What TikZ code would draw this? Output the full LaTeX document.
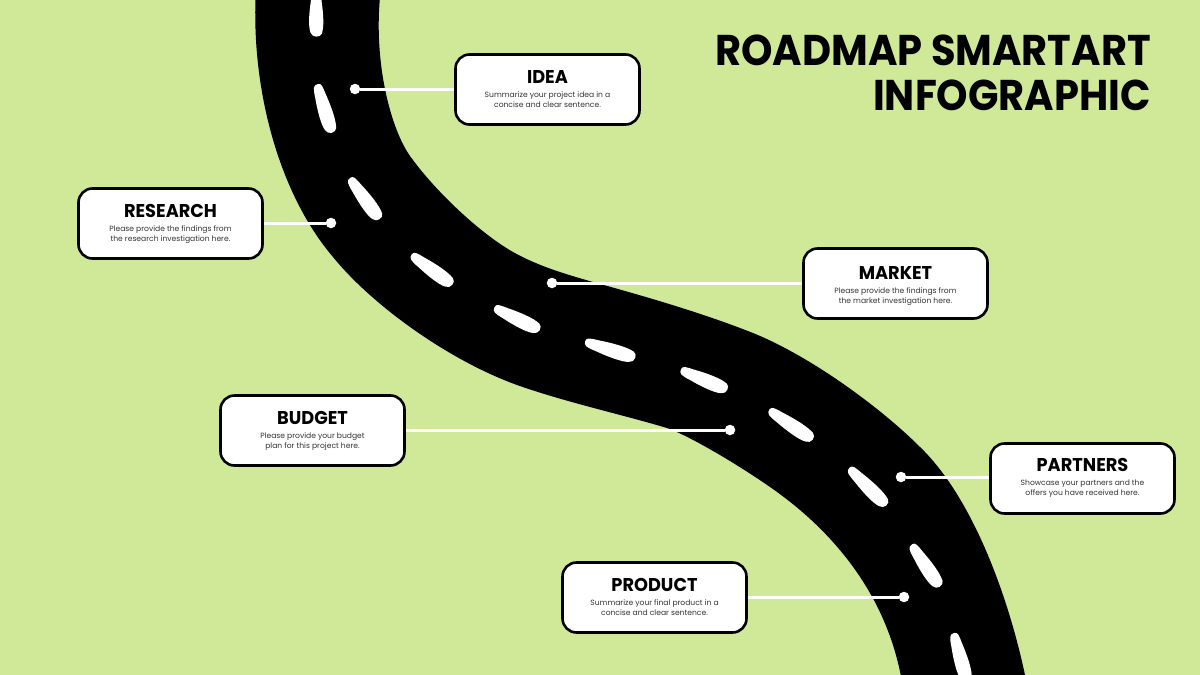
\documentclass[tikz,border=0pt]{standalone}
\usepackage{fontspec}
\setmainfont{Poppins}
\newfontfamily\headfont[FakeStretch=0.93]{Poppins}
\newfontfamily\titlefont[FakeStretch=0.96]{Poppins}
\usetikzlibrary{positioning}
\definecolor{meadow}{HTML}{D0E999}
\tikzset{
    card/.style={draw=black,fill=white,line width=2.6pt,rounded corners=14pt,minimum width=184pt,minimum height=70pt},
    cardtitle/.style={font=\titlefont\fontsize{18.5}{20}\selectfont\bfseries,inner sep=0pt},
    cardtext/.style={font=\fontsize{7.6}{10}\selectfont,align=center,text=black!80,inner sep=0pt},
    stopdot/.style={circle,fill=white,minimum size=10.5pt,inner sep=0pt},
    stopline/.style={draw=white,line width=3pt},
    laneblob/.pic={\fill[white] (-1,0) .. controls (-1,.24) and (-.9,.28) .. (-.5,.32)
        .. controls (0,.4) and (.6,.44) .. (.85,.32)
        .. controls (1.08,.25) and (1.08,-.17) .. (.9,-.24)
        .. controls (.6,-.36) and (0,-.32) .. (-.5,-.24)
        .. controls (-.85,-.2) and (-1,-.2) .. (-1,0) -- cycle;}
}

\begin{document}
\begin{tikzpicture}[x=1pt,y=-1pt]
    \useasboundingbox (0,0) rectangle (1200,675);
    \clip (0,0) rectangle (1200,675);
    \fill[meadow] (0,0) rectangle (1200,675);

    % road
    \fill[black] (256,-12) .. controls (250,90) and (280,195) .. (333,257)
        .. controls (372,305) and (448,360) .. (517,385)
        .. controls (565,402) and (620,414) .. (667,428)
        .. controls (690,436) and (740,466) .. (770,487)
        .. controls (835,532) and (892,600) .. (904,695)
        -- (1030,695) -- (1025,675)
        .. controls (1008,595) and (972,497) .. (920,447)
        .. controls (880,407) and (810,356) .. (753,333)
        .. controls (700,312) and (640,295) .. (593,282)
        .. controls (565,274) and (538,266) .. (513,252)
        .. controls (478,232) and (435,190) .. (413,160)
        .. controls (391,133) and (372,60) .. (381,-12)
        -- cycle;

    % lane marks: x/y/half length/half width/angle
    \foreach \x/\y/\l/\w/\a in {317/14/22/20/-90,325/108/25/20/-73,365/198/25/20/-54,432/269/25/20/-36,517/318/25/20/-26,610/349/26/20/-18,704/379/25/20/-23,791/424/26/20/-34,868/486/26/20/-45,926/565/25/20/-56,961/657/25/20/-74}
        \pic[rotate=\a,xscale=\l,yscale=\w] at (\x,\y) {laneblob};

    % stops
    \node[stopdot] (ideadot) at (355,89) {};
    \node[stopdot] (researchdot) at (331,223) {};
    \node[stopdot] (marketdot) at (552,283) {};
    \node[stopdot] (budgetdot) at (730,430) {};
    \node[stopdot] (partnersdot) at (901,477) {};
    \node[stopdot] (productdot) at (904,597) {};

    % cards
    \node[card] (idea) at (547.5,89.5) {};
    \node[card] (research) at (170.5,223.5) {};
    \node[card] (market) at (895.5,283.5) {};
    \node[card] (budget) at (312.5,430.5) {};
    \node[card] (partners) at (1082.5,478.5) {};
    \node[card] (product) at (654.5,597.5) {};

    \draw[stopline] (ideadot) -- (idea.west |- ideadot);
    \draw[stopline] (researchdot) -- (research.east |- researchdot);
    \draw[stopline] (marketdot) -- (market.west |- marketdot);
    \draw[stopline] (budgetdot) -- (budget.east |- budgetdot);
    \draw[stopline] (partnersdot) -- (partners.west |- partnersdot);
    \draw[stopline] (productdot) -- (product.east |- productdot);

    \node[cardtitle] (ideatitle) at (547.5,77) {IDEA};
    \node[cardtext,below=8pt of ideatitle] (ideatext) {Summarize your project idea in a\\concise and clear sentence.};
    \node[cardtitle] (researchtitle) at (170.5,211) {RESEARCH};
    \node[cardtext,below=8pt of researchtitle] (researchtext) {Please provide the findings from\\the research investigation here.};
    \node[cardtitle] (markettitle) at (895.5,273) {MARKET};
    \node[cardtext,below=8pt of markettitle] (markettext) {Please provide the findings from\\the market investigation here.};
    \node[cardtitle] (budgettitle) at (312.5,418) {BUDGET};
    \node[cardtext,below=8pt of budgettitle] (budgettext) {Please provide your budget\\plan for this project here.};
    \node[cardtitle] (partnerstitle) at (1082.5,465) {PARTNERS};
    \node[cardtext,below=8pt of partnerstitle] (partnerstext) {Showcase your partners and the\\offers you have received here.};
    \node[cardtitle] (producttitle) at (654.5,585) {PRODUCT};
    \node[cardtext,below=8pt of producttitle] (producttext) {Summarize your final product in a\\concise and clear sentence.};

    \node[font=\headfont\fontsize{43}{44.5}\selectfont\bfseries,align=right,anchor=north east,inner sep=0pt] (heading) at (1151,35) {ROADMAP SMARTART\\INFOGRAPHIC};
\end{tikzpicture}
\end{document}
